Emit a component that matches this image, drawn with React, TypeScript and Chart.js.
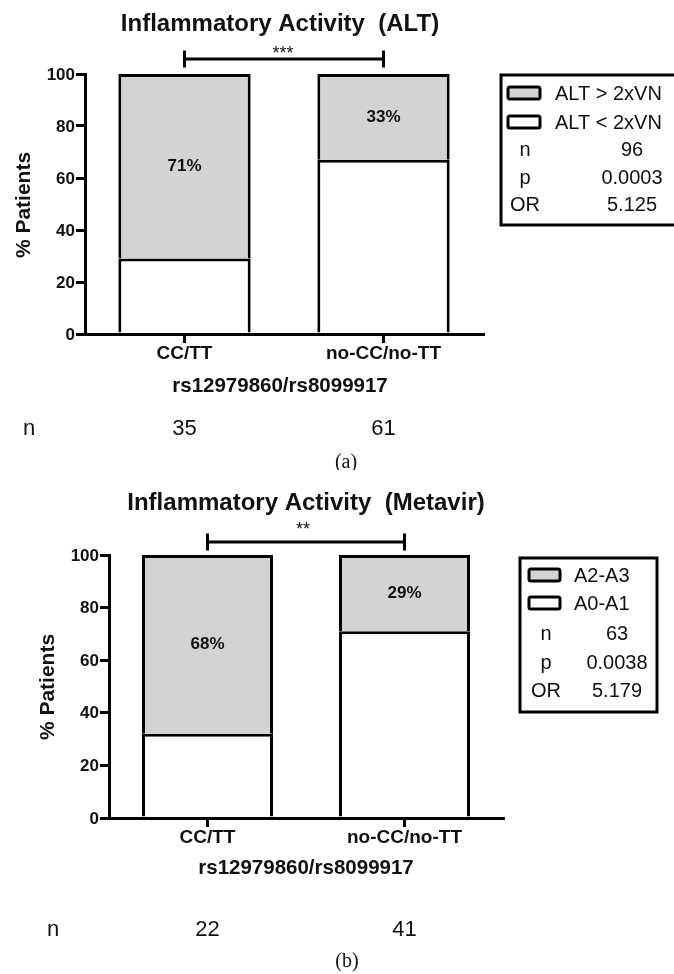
import React, { useEffect, useRef } from 'react';
import { Chart, registerables } from 'chart.js';

Chart.register(...registerables);

// ---------- data ----------
const categories = ['CC/TT', 'no-CC/no-TT'];
const axisTitleX = 'rs12979860/rs8099917';
const axisTitleY = '% Patients';

const altAbove = [71, 33]; // ALT > 2xVN (grey, top)
const altBelow = [29, 67]; // ALT < 2xVN (white, bottom)
const metavirHigh = [68, 29]; // A2-A3 (grey, top)
const metavirLow = [32, 71]; // A0-A1 (white, bottom)

const groupNA = [35, 61];
const groupNB = [22, 41];

const statLabels = ['n', 'p', 'OR'];
const statsA = ['96', '0.0003', '5.125'];
const statsB = ['63', '0.0038', '5.179'];

const legendA = ['ALT > 2xVN', 'ALT < 2xVN'];
const legendB = ['A2-A3', 'A0-A1'];

const titleA = 'Inflammatory Activity  (ALT)';
const titleB = 'Inflammatory Activity  (Metavir)';
const starsA = '***';
const starsB = '**';

// ---------- style ----------
const GREY = '#d3d3d3';
const INK = '#111111';
const SANS = '"Liberation Sans", Arial, Helvetica, sans-serif';
const SERIF = '"Liberation Serif", "Times New Roman", serif';
const W = 674;

type PanelCfg = {
  height: number;
  plot: { l: number; r: number; t: number; b: number };
  title: string;
  titleX: number;
  titleY: number;
  stars: string;
  bracketY: number;
  starsX: number;
  starsY: number;
  yLabelRight: number;
  xLabelY: number;
  xTitleX: number;
  xTitleY: number;
  yTitleX: number;
  yTitleY: number;
  nLabelX: number;
  nY: number;
  nValues: number[];
  caption: string;
  captionX: number;
  captionY: number;
  high: number[];
  low: number[];
  legendLabels: string[];
  stats: string[];
  box: { x1: number; x2: number; y1: number; y2: number };
  swatch: { x1: number; x2: number };
  legendTextX: number;
  legendRows: number[];
  statRows: number[];
  statLabelX: number;
  statValueX: number;
};

const panelA: PanelCfg = {
  height: 470,
  plot: { l: 85, r: 483, t: 74, b: 334 },
  title: titleA,
  titleX: 280,
  titleY: 24,
  stars: starsA,
  bracketY: 59,
  starsX: 283,
  starsY: 49,
  yLabelRight: 75,
  xLabelY: 354,
  xTitleX: 280,
  xTitleY: 386,
  yTitleX: 24,
  yTitleY: 205,
  nLabelX: 29,
  nY: 429,
  nValues: groupNA,
  caption: '(a)',
  captionX: 346,
  captionY: 463,
  high: altAbove,
  low: altBelow,
  legendLabels: legendA,
  stats: statsA,
  box: { x1: 501, x2: 690, y1: 75, y2: 225 },
  swatch: { x1: 508, x2: 540 },
  legendTextX: 555,
  legendRows: [93, 122],
  statRows: [149, 177, 204],
  statLabelX: 525,
  statValueX: 632,
};

const panelB: PanelCfg = {
  height: 504,
  plot: { l: 109, r: 503, t: 85, b: 348 },
  title: titleB,
  titleX: 306,
  titleY: 33,
  stars: starsB,
  bracketY: 72,
  starsX: 303,
  starsY: 55,
  yLabelRight: 99,
  xLabelY: 368,
  xTitleX: 306,
  xTitleY: 398,
  yTitleX: 48,
  yTitleY: 217,
  nLabelX: 53,
  nY: 460,
  nValues: groupNB,
  caption: '(b)',
  captionX: 347,
  captionY: 492,
  high: metavirHigh,
  low: metavirLow,
  legendLabels: legendB,
  stats: statsB,
  box: { x1: 520, x2: 657, y1: 88, y2: 242 },
  swatch: { x1: 529, x2: 560 },
  legendTextX: 574,
  legendRows: [105, 133],
  statRows: [163, 192, 220],
  statLabelX: 546,
  statValueX: 617,
};

function txt(
  ctx: CanvasRenderingContext2D,
  s: string,
  x: number,
  y: number,
  font: string,
  align: CanvasTextAlign = 'center',
  baseline: CanvasTextBaseline = 'middle'
) {
  ctx.font = font;
  ctx.fillStyle = INK;
  ctx.textAlign = align;
  ctx.textBaseline = baseline;
  ctx.fillText(s, x, y);
}

function roundRect(ctx: CanvasRenderingContext2D, x: number, y: number, w: number, h: number, r: number) {
  ctx.beginPath();
  ctx.moveTo(x + r, y);
  ctx.lineTo(x + w - r, y);
  ctx.quadraticCurveTo(x + w, y, x + w, y + r);
  ctx.lineTo(x + w, y + h - r);
  ctx.quadraticCurveTo(x + w, y + h, x + w - r, y + h);
  ctx.lineTo(x + r, y + h);
  ctx.quadraticCurveTo(x, y + h, x, y + h - r);
  ctx.lineTo(x, y + r);
  ctx.quadraticCurveTo(x, y, x + r, y);
  ctx.closePath();
}

function makeDecor(cfg: PanelCfg) {
  return {
    id: 'panelDecor',
    afterDraw(chart: any) {
      const ctx: CanvasRenderingContext2D = chart.ctx;
      const xs = chart.scales.x;
      const ys = chart.scales.y;
      ctx.save();

      // title
      txt(ctx, cfg.title, cfg.titleX, cfg.titleY, `bold 24px ${SANS}`);

      // significance bracket
      const bx1 = xs.getPixelForValue(0);
      const bx2 = xs.getPixelForValue(1);
      ctx.strokeStyle = '#000';
      ctx.lineWidth = 3;
      ctx.beginPath();
      ctx.moveTo(bx1, cfg.bracketY);
      ctx.lineTo(bx2, cfg.bracketY);
      ctx.moveTo(bx1, cfg.bracketY - 8.5);
      ctx.lineTo(bx1, cfg.bracketY + 8.5);
      ctx.moveTo(bx2, cfg.bracketY - 8.5);
      ctx.lineTo(bx2, cfg.bracketY + 8.5);
      ctx.stroke();
      txt(ctx, cfg.stars, cfg.starsX, cfg.starsY + 10, `18px ${SANS}`, 'center', 'alphabetic');

      // y tick labels
      for (const t of ys.ticks) {
        txt(ctx, String(t.value), cfg.yLabelRight, ys.getPixelForValue(t.value) + 1, `bold 17px ${SANS}`, 'right');
      }
      // x tick labels
      categories.forEach((c, i) => {
        txt(ctx, c, xs.getPixelForValue(i), cfg.xLabelY, `bold 19px ${SANS}`);
      });
      // axis titles
      txt(ctx, axisTitleX, cfg.xTitleX, cfg.xTitleY, `bold 20.5px ${SANS}`);
      ctx.save();
      ctx.translate(cfg.yTitleX, cfg.yTitleY);
      ctx.rotate(-Math.PI / 2);
      txt(ctx, axisTitleY, 0, 0, `bold 21px ${SANS}`);
      ctx.restore();

      // percentages in grey segments
      const meta = chart.getDatasetMeta(1);
      meta.data.forEach((el: any, i: number) => {
        const cy = (el.y + el.base) / 2;
        txt(ctx, `${cfg.high[i]}%`, el.x, cy, `bold 17px ${SANS}`);
      });

      // n row
      txt(ctx, 'n', cfg.nLabelX, cfg.nY, `22px ${SANS}`);
      cfg.nValues.forEach((v, i) => {
        txt(ctx, String(v), xs.getPixelForValue(i), cfg.nY, `22px ${SANS}`);
      });

      // caption
      txt(ctx, cfg.caption, cfg.captionX, cfg.captionY, `20px ${SERIF}`);

      // legend box
      const b = cfg.box;
      ctx.fillStyle = '#fff';
      ctx.fillRect(b.x1, b.y1, b.x2 - b.x1, b.y2 - b.y1);
      ctx.strokeStyle = '#000';
      ctx.lineWidth = 3;
      ctx.strokeRect(b.x1, b.y1, b.x2 - b.x1, b.y2 - b.y1);
      const fills = [GREY, '#ffffff'];
      cfg.legendLabels.forEach((lab, i) => {
        const y = cfg.legendRows[i];
        roundRect(ctx, cfg.swatch.x1, y - 6, cfg.swatch.x2 - cfg.swatch.x1, 12, 2);
        ctx.fillStyle = fills[i];
        ctx.fill();
        ctx.lineWidth = 3;
        ctx.strokeStyle = '#000';
        ctx.stroke();
        txt(ctx, lab, cfg.legendTextX, y + 1, `20px ${SANS}`, 'left');
      });
      statLabels.forEach((lab, i) => {
        const y = cfg.statRows[i] + 1;
        txt(ctx, lab, cfg.statLabelX, y, `20px ${SANS}`);
        txt(ctx, cfg.stats[i], cfg.statValueX, y, `20px ${SANS}`);
      });

      ctx.restore();
    },
  };
}

function Panel({ cfg, top }: { cfg: PanelCfg; top: number }) {
  const ref = useRef<HTMLCanvasElement | null>(null);
  useEffect(() => {
    if (!ref.current) return;
    const p = cfg.plot;
    const axisOpts = {
      stacked: true,
      z: 1,
      grid: {
        offset: false,
        drawOnChartArea: false,
        drawTicks: true,
        tickLength: 9,
        color: '#000',
        lineWidth: 3,
      },
      border: { color: '#000', width: 3 },
    };
    const chart = new Chart(ref.current, {
      type: 'bar',
      data: {
        labels: categories,
        datasets: [
          {
            label: cfg.legendLabels[1],
            data: cfg.low,
            backgroundColor: '#ffffff',
            borderColor: '#000',
            borderWidth: 3,
            borderSkipped: 'start',
            categoryPercentage: 1,
            barPercentage: 0.665,
          },
          {
            label: cfg.legendLabels[0],
            data: cfg.high,
            backgroundColor: GREY,
            borderColor: '#000',
            borderWidth: 3,
            borderSkipped: 'start',
            categoryPercentage: 1,
            barPercentage: 0.665,
          },
        ],
      },
      options: {
        responsive: false,
        animation: false,
        events: [],
        layout: {
          padding: {
            left: p.l - 10,
            right: W - p.r,
            top: p.t,
            bottom: cfg.height - p.b - 10,
          },
        },
        plugins: {
          legend: { display: false },
          tooltip: { enabled: false },
          title: { display: false },
        },
        scales: {
          x: {
            ...axisOpts,
            ticks: { display: false },
            afterFit: (s: any) => {
              s.height = 10;
            },
          },
          y: {
            ...axisOpts,
            min: 0,
            max: 100,
            ticks: { display: false, stepSize: 20 },
            afterFit: (s: any) => {
              s.width = 10;
            },
          },
        },
      } as any,
      plugins: [makeDecor(cfg)],
    });
    return () => chart.destroy();
  }, [cfg]);
  return (
    <canvas
      ref={ref}
      width={W}
      height={cfg.height}
      style={{ position: 'absolute', left: 0, top, width: W, height: cfg.height }}
    />
  );
}

export default function App() {
  useEffect(() => {
    document.body.style.margin = '0';
    document.body.style.background = '#fff';
  }, []);
  return (
    <div style={{ position: 'relative', width: W, height: 974, background: '#fff', overflow: 'hidden' }}>
      <Panel cfg={panelA} top={0} />
      <Panel cfg={panelB} top={470} />
    </div>
  );
}
